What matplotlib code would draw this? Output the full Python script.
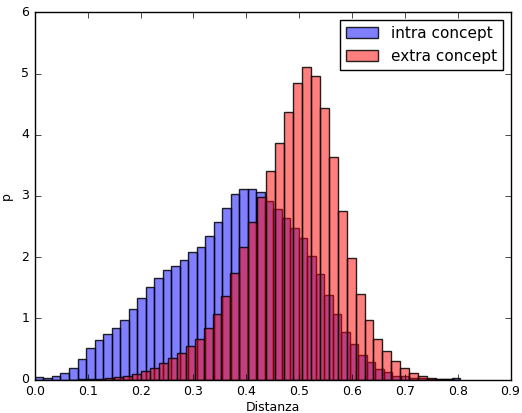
import numpy as np
import matplotlib
matplotlib.use('Agg')
import matplotlib.pyplot as plt

# istogrammi normalizzati (densita')
intra_start = 0.0
intra_width = 0.0161
intra = [0.04, 0.02, 0.05, 0.10, 0.19, 0.34, 0.51, 0.64, 0.75, 0.85,
         0.97, 1.15, 1.33, 1.51, 1.66, 1.79, 1.85, 1.96, 2.08, 2.16,
         2.35, 2.58, 2.81, 3.03, 3.12, 3.11, 3.06, 2.92, 2.79, 2.64,
         2.48, 2.31, 2.02, 1.72, 1.38, 1.07, 0.77, 0.58, 0.40, 0.28,
         0.18, 0.13, 0.06, 0.05, 0.03, 0.02, 0.01, 0.01, 0.005, 0.03]

extra_start = 0.0653
extra_width = 0.01692
extra = [0.0, 0.003, 0.005, 0.01, 0.02, 0.04, 0.06, 0.09, 0.14, 0.19,
         0.27, 0.35, 0.44, 0.55, 0.67, 0.85, 1.07, 1.37, 1.74, 2.16,
         2.57, 2.98, 3.40, 3.87, 4.37, 4.85, 5.11, 4.96, 4.43, 3.63,
         2.76, 1.99, 1.39, 0.97, 0.67, 0.46, 0.30, 0.19, 0.10, 0.05,
         0.02, 0.01, 0.005]

plt.style.use('classic')
plt.rcParams['savefig.facecolor'] = 'white'
plt.rcParams['figure.facecolor'] = 'white'

fig = plt.figure(figsize=(5.22, 4.13), dpi=100)
ax = fig.add_axes([0.067, 0.081, 0.911, 0.889])

# bordi dei bin
intra_edges = intra_start + intra_width * np.arange(len(intra) + 1)
extra_edges = extra_start + extra_width * np.arange(len(extra) + 1)

ax.hist(intra_edges[:-1] + intra_width / 2, bins=intra_edges, weights=intra,
        facecolor=(0, 0, 1, 0.5), edgecolor=(0, 0, 0, 0.85), linewidth=1,
        label='intra concept')
ax.hist(extra_edges[:-1] + extra_width / 2, bins=extra_edges, weights=extra,
        facecolor=(1, 0, 0, 0.5), edgecolor=(0, 0, 0, 0.85), linewidth=1,
        label='extra concept')

ax.set_xlim(0, 0.9)
ax.set_ylim(0, 6)
ax.set_xticks(np.arange(0, 0.91, 0.1))
ax.set_yticks(range(7))
ax.tick_params(labelsize=9)
ax.set_xlabel('Distanza', fontsize=9, labelpad=2)
ax.set_ylabel('p', fontsize=9, labelpad=6)
ax.legend(loc='upper right', fontsize=11, handlelength=2.1,
          handletextpad=0.8, borderaxespad=0.5)

plt.savefig('out.png', dpi=100)
plt.close()
